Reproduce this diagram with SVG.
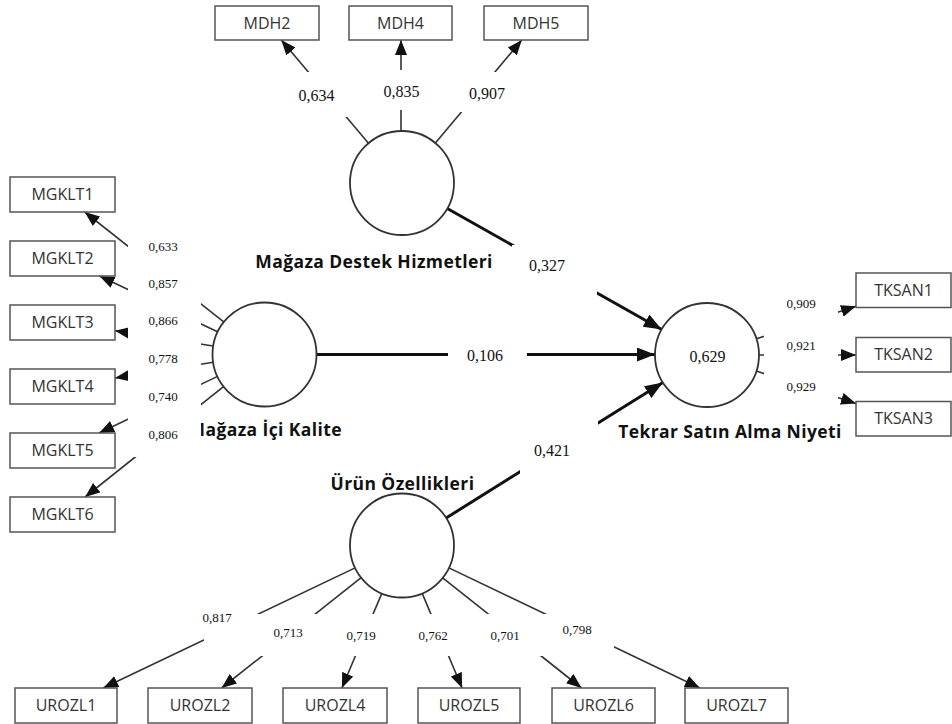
<svg xmlns="http://www.w3.org/2000/svg" width="952" height="724" viewBox="0 0 952 724">
<defs>
<marker id="a" viewBox="0 0 15 12" refX="15" refY="6" markerWidth="15" markerHeight="12" markerUnits="userSpaceOnUse" orient="auto"><path d="M0,0 L15,6 L0,12 z" fill="#111"/></marker>
<marker id="b" viewBox="0 0 18 14" refX="18" refY="7" markerWidth="18" markerHeight="14" markerUnits="userSpaceOnUse" orient="auto"><path d="M0,0 L18,7 L0,14 z" fill="#111"/></marker>
</defs>
<style>
.ind{stroke:#333;stroke-width:1.6;fill:none;marker-end:url(#a)}
.path{stroke:#111;stroke-width:3;fill:none;marker-end:url(#b)}
.lv{fill:#fff;stroke:#333;stroke-width:1.8}
.box{fill:#fff;stroke:#555;stroke-width:1.5}
.bt{font-family:"Open Sans","DejaVu Sans",sans-serif;font-size:16px;fill:#333;text-anchor:middle}
.nm{font-family:"Open Sans","DejaVu Sans",sans-serif;font-weight:700;font-size:17.5px;letter-spacing:0.4px;fill:#111}
.num{font-family:"Liberation Serif","Times New Roman",serif;fill:#111;text-anchor:middle}
.n16{font-size:16px}
.n13{font-size:13px}
.bg{fill:#fff;stroke:none}
</style>
<g id="connectors">
<line class="ind" x1="368.5" y1="143.3" x2="281.3" y2="40"/>
<line class="ind" x1="401" y1="131" x2="401" y2="40"/>
<line class="ind" x1="435.4" y1="143.1" x2="521.8" y2="40"/>
<line class="ind" x1="223.7" y1="321.8" x2="84.7" y2="212"/>
<line class="ind" x1="217.5" y1="331.8" x2="99.5" y2="276"/>
<line class="ind" x1="213.1" y1="346" x2="115" y2="330.7"/>
<line class="ind" x1="213.2" y1="362.3" x2="115" y2="378"/>
<line class="ind" x1="217.6" y1="376.4" x2="99.1" y2="433"/>
<line class="ind" x1="223.8" y1="386.4" x2="85.1" y2="497"/>
<line class="ind" x1="756.4" y1="338.8" x2="856" y2="306.3"/>
<line class="ind" x1="759" y1="355" x2="856" y2="355"/>
<line class="ind" x1="756.5" y1="371.1" x2="856" y2="403.4"/>
<line class="ind" x1="355.1" y1="567.9" x2="103.2" y2="688"/>
<line class="ind" x1="361.2" y1="577.7" x2="221.6" y2="688"/>
<line class="ind" x1="381.8" y1="593.4" x2="341.9" y2="688"/>
<line class="ind" x1="422.2" y1="593.4" x2="462.1" y2="688"/>
<line class="ind" x1="442.7" y1="577.8" x2="581.5" y2="688"/>
<line class="ind" x1="448.9" y1="567.9" x2="699.9" y2="688"/>
<line class="path" x1="316.5" y1="354.5" x2="655" y2="354.5"/>
<line class="path" x1="447.3" y1="208.5" x2="661.7" y2="329.5"/>
<line class="path" x1="446.1" y1="518" x2="662.9" y2="382.6"/>
</g>
<g id="MDH2"><rect class="box" x="215" y="6" width="104" height="34"/><text class="bt" x="267" y="28.5">MDH2</text></g>
<g id="MDH4"><rect class="box" x="349" y="6" width="103" height="34"/><text class="bt" x="400.5" y="28.5">MDH4</text></g>
<g id="MDH5"><rect class="box" x="484" y="6" width="104" height="34"/><text class="bt" x="536" y="28.5">MDH5</text></g>
<g id="MGKLT1"><rect class="box" x="10" y="177" width="105" height="35"/><text class="bt" x="62.5" y="200">MGKLT1</text></g>
<g id="MGKLT2"><rect class="box" x="10" y="241" width="105" height="35"/><text class="bt" x="62.5" y="264">MGKLT2</text></g>
<g id="MGKLT3"><rect class="box" x="10" y="305" width="105" height="35"/><text class="bt" x="62.5" y="328">MGKLT3</text></g>
<g id="MGKLT4"><rect class="box" x="10" y="369" width="105" height="35"/><text class="bt" x="62.5" y="392">MGKLT4</text></g>
<g id="MGKLT5"><rect class="box" x="10" y="433" width="105" height="35"/><text class="bt" x="62.5" y="456">MGKLT5</text></g>
<g id="MGKLT6"><rect class="box" x="10" y="497" width="105" height="35"/><text class="bt" x="62.5" y="520">MGKLT6</text></g>
<g id="TKSAN1"><rect class="box" x="856" y="273" width="95" height="34.5"/><text class="bt" x="903.5" y="295.5">TKSAN1</text></g>
<g id="TKSAN2"><rect class="box" x="856" y="337.5" width="95" height="34.5"/><text class="bt" x="903.5" y="360">TKSAN2</text></g>
<g id="TKSAN3"><rect class="box" x="856" y="401.5" width="95" height="34.5"/><text class="bt" x="903.5" y="424">TKSAN3</text></g>
<g id="UROZL1"><rect class="box" x="15" y="688" width="102" height="35"/><text class="bt" x="66" y="711">UROZL1</text></g>
<g id="UROZL2"><rect class="box" x="148" y="688" width="104" height="35"/><text class="bt" x="200" y="711">UROZL2</text></g>
<g id="UROZL4"><rect class="box" x="283" y="688" width="104" height="35"/><text class="bt" x="335" y="711">UROZL4</text></g>
<g id="UROZL5"><rect class="box" x="418" y="688" width="102" height="35"/><text class="bt" x="469" y="711">UROZL5</text></g>
<g id="UROZL6"><rect class="box" x="552" y="688" width="103" height="35"/><text class="bt" x="603.5" y="711">UROZL6</text></g>
<g id="UROZL7"><rect class="box" x="685" y="688" width="103" height="35"/><text class="bt" x="736.5" y="711">UROZL7</text></g>
<g id="MDH"><circle class="lv" cx="402" cy="183" r="52"/><text class="nm" x="374" y="268" text-anchor="middle">Mağaza Destek Hizmetleri</text></g>
<g id="MGKLT"><circle class="lv" cx="264.5" cy="354.5" r="52"/><text class="nm" x="342" y="436" text-anchor="end">Mağaza İçi Kalite</text></g>
<g id="UROZL"><circle class="lv" cx="402" cy="545.5" r="52"/><text class="nm" x="402.5" y="490" text-anchor="middle">Ürün Özellikleri</text></g>
<g id="TKSAN"><circle class="lv" cx="707" cy="355" r="52"/><text class="num n16" x="707.5" y="362">0,629</text><text class="nm" x="730" y="438" text-anchor="middle">Tekrar Satın Alma Niyeti</text></g>
<g id="labels">
<rect class="bg" x="285" y="72" width="70" height="45"/>
<rect class="bg" x="372" y="70" width="58" height="40"/>
<rect class="bg" x="450" y="72" width="62" height="40"/>
<rect class="bg" x="128" y="236" width="73" height="221"/>
<rect class="bg" x="764" y="290" width="74" height="112"/>
<rect class="bg" x="204" y="614" width="410" height="42"/>
<rect class="bg" x="448" y="335" width="79" height="40"/>
<rect class="bg" x="512" y="245" width="85" height="50"/>
<rect class="bg" x="520" y="418" width="78" height="57"/>
<text class="num n16" x="316.5" y="101">0,634</text>
<text class="num n16" x="401.5" y="97">0,835</text>
<text class="num n16" x="487" y="99">0,907</text>
<text class="num n13" x="163" y="251">0,633</text>
<text class="num n13" x="163" y="288">0,857</text>
<text class="num n13" x="163" y="325">0,866</text>
<text class="num n13" x="163" y="363">0,778</text>
<text class="num n13" x="163" y="401">0,740</text>
<text class="num n13" x="163" y="439">0,806</text>
<text class="num n13" x="801" y="308">0,909</text>
<text class="num n13" x="801" y="350">0,921</text>
<text class="num n13" x="801" y="391">0,929</text>
<text class="num n13" x="217" y="622">0,817</text>
<text class="num n13" x="288" y="637">0,713</text>
<text class="num n13" x="361" y="640">0,719</text>
<text class="num n13" x="433" y="640">0,762</text>
<text class="num n13" x="505" y="640">0,701</text>
<text class="num n13" x="577" y="634">0,798</text>
<text class="num n16" x="485" y="361">0,106</text>
<text class="num n16" x="547" y="271">0,327</text>
<text class="num n16" x="552" y="456">0,421</text>
</g>
</svg>
